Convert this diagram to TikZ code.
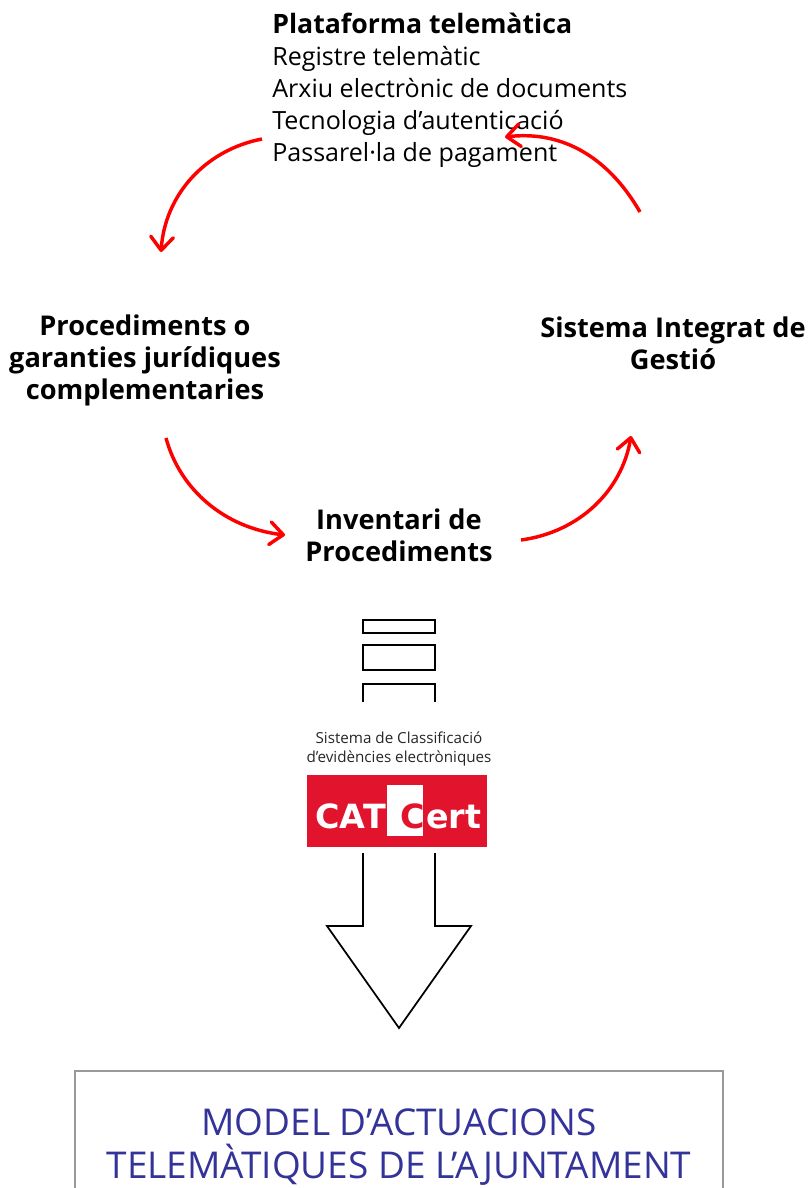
\documentclass[tikz,border=0pt]{standalone}
\usepackage{fontspec}
\usepackage{xcolor}
\setmainfont{Open Sans}
\newfontfamily\logofont{DejaVu Sans}
\usetikzlibrary{arrows.meta}
\definecolor{modelblue}{HTML}{333399}
\definecolor{boxgray}{HTML}{999999}
\definecolor{catred}{HTML}{E2142D}
\tikzstyle{heading} = [inner sep=0pt,align=center,font=\fontsize{20.4}{24}\selectfont\bfseries]
\tikzstyle{plain} = [inner sep=0pt,align=left,font=\fontsize{18.8}{24}\selectfont]
\tikzstyle{small} = [inner sep=0pt,align=center,font=\fontsize{11.4}{14}\selectfont,text=black!85]
\tikzstyle{cycle} = [-{Straight Barb[length=10pt,width=17pt,round]},line width=2.6pt,red]
\tikzstyle{slab} = [draw,line width=1.5pt,minimum width=54pt,inner sep=0pt]
\tikzstyle{outline} = [line width=1.5pt]
\tikzstyle{logo} = [inner sep=0pt,font=\fontsize{25}{25}\selectfont\logofont\bfseries]

\begin{document}
\begin{tikzpicture}[x=0.75pt,y=-0.75pt]
	\path[use as bounding box,clip] (0,0) rectangle (809,1188);

	\node (plataforma)[plain,anchor=north west] at (272,13) {{\fontsize{20}{24}\selectfont\bfseries Plataforma telemàtica}\\Registre telemàtic\\Arxiu electrònic de documents\\Tecnologia d’autenticació\\Passarel·la de pagament};
	\node (garanties)[heading] at (145,360) {Procediments o\\garanties jurídiques\\complementaries};
	\node (integrat)[heading] at (673,343) {Sistema Integrat de\\Gestió};
	\node (inventari)[heading] at (399,535) {Inventari de\\Procediments};

	\coordinate (c1s) at (262,139);
	\coordinate (c1e) at (161,252);
	\coordinate (c2s) at (166,438);
	\coordinate (c2e) at (285,535);
	\coordinate (c3s) at (521,540);
	\coordinate (c3e) at (631,436);
	\coordinate (c4s) at (640,212);
	\coordinate (c4e) at (505,137);

	\draw[cycle] (c1s) .. controls (205,150) and (165,195) .. (c1e);
	\draw[cycle] (c2s) .. controls (180,490) and (225,528) .. (c2e);
	\draw[cycle] (c3s) .. controls (580,532) and (622,490) .. (c3e);
	\draw[cycle] (c4s) .. controls (610,160) and (565,130) .. (c4e);

	\node (slab1)[slab,minimum height=9.5pt] at (399,626.5) {};
	\node (slab2)[slab,minimum height=19pt] at (399,657.5) {};
	\draw[outline] (363,702) -- (363,684) -- (435,684) -- (435,702);

	\node (clasif)[small] at (399,749) {Sistema de Classificació\\d’evidències electròniques};

	\node (catcert)[fill=catred,minimum width=135pt,minimum height=54pt,inner sep=0pt] at (397,811) {};
	\node (catwhite)[fill=white,minimum width=27pt,minimum height=38pt,inner sep=0pt] at (405,810.5) {};
	\node (catl)[logo,text=white,anchor=base east] at (386,828) {CAT};
	\node (catc)[logo,text=catred,anchor=base east] at (425,828) {C};
	\node (catr)[logo,text=white,anchor=base west] at (426,828) {ert};

	\draw[outline,line width=1.3pt] (363,853) -- (363,926) -- (327,926) -- (399,1028) -- (471,926) -- (435,926) -- (435,853);

	\node (modelbox)[draw=boxgray,line width=1.5pt,anchor=north,minimum width=486pt,minimum height=150pt] at (399,1069.5) {};
	\node (modeltext)[inner sep=0pt,align=center,text=modelblue,font=\fontsize{27.7}{32.3}\selectfont] at (399,1147.5) {MODEL D’ACTUACIONS\\TELEMÀTIQUES DE L’AJUNTAMENT};
\end{tikzpicture}
\end{document}
